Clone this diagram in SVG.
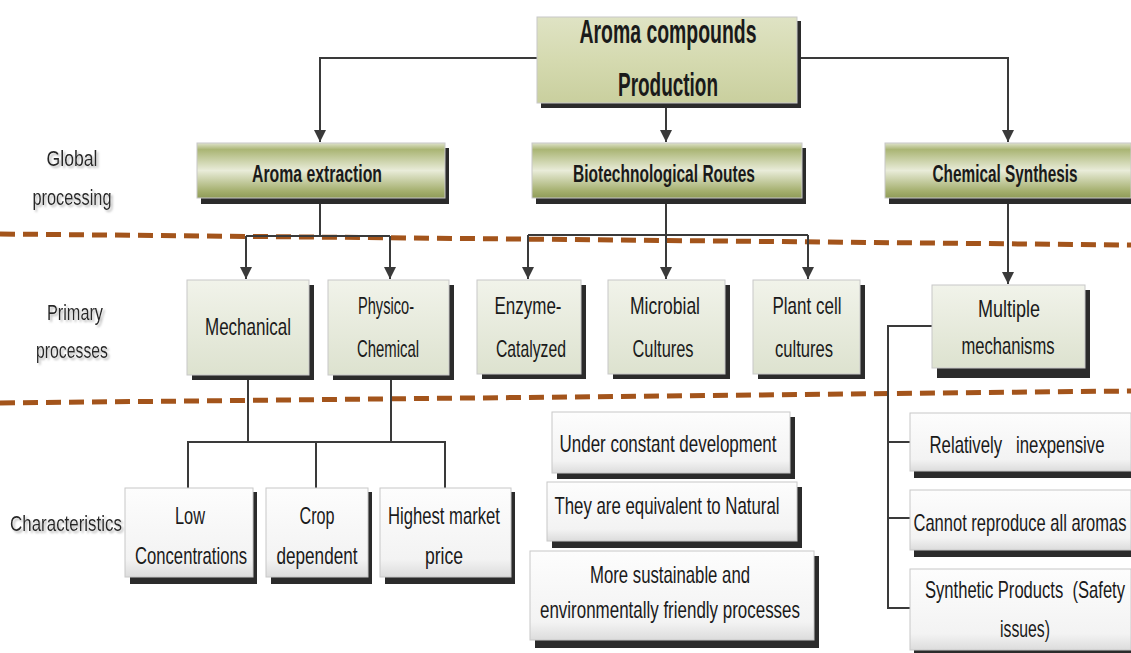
<svg xmlns="http://www.w3.org/2000/svg" width="1131" height="653" viewBox="0 0 1131 653">
<defs>
<linearGradient id="gTop" x1="0" y1="0" x2="0" y2="1">
<stop offset="0" stop-color="#dfe3c4"/><stop offset="0.5" stop-color="#d5dab0"/><stop offset="1" stop-color="#c9cf9e"/>
</linearGradient>
<linearGradient id="gL2" x1="0" y1="0" x2="0" y2="1">
<stop offset="0" stop-color="#dfe3cc"/><stop offset="0.12" stop-color="#aab574"/><stop offset="0.5" stop-color="#e9ecd9"/><stop offset="0.88" stop-color="#a3ae6c"/><stop offset="1" stop-color="#8f9b58"/>
</linearGradient>
<linearGradient id="gL3" x1="0" y1="0" x2="0" y2="1">
<stop offset="0" stop-color="#f1f3ea"/><stop offset="1" stop-color="#dde2cf"/>
</linearGradient>
<linearGradient id="gW" x1="0" y1="0" x2="0" y2="1">
<stop offset="0" stop-color="#fdfdfd"/><stop offset="0.8" stop-color="#f3f3f3"/><stop offset="1" stop-color="#dcdcdc"/>
</linearGradient>
<marker id="arr" markerUnits="userSpaceOnUse" markerWidth="12" markerHeight="14" refX="12" refY="6" orient="auto">
<path d="M0,0 L12,6 L0,12 z" fill="#3a3a3a"/>
</marker>
<filter id="ts" x="-10%" y="-10%" width="130%" height="140%">
<feDropShadow dx="2" dy="2" stdDeviation="0.8" flood-color="#b8b8b8" flood-opacity="1"/>
</filter>
</defs>
<style>
text{font-family:"Liberation Sans",Arial,sans-serif;fill:#1a1a1a;text-anchor:middle}
.t1{font-size:34px;font-weight:bold}
.t2{font-size:24px;font-weight:bold}
.t3{font-size:24px}
.side{font-size:22px;fill:#262626;filter:url(#ts)}
.sh{fill:#2b2b2b}
.b1{fill:url(#gTop);stroke:#c8c8c8;stroke-width:1}
.b2{fill:url(#gL2);stroke:#c8c8c8;stroke-width:1}
.b3{fill:url(#gL3);stroke:#c8c8c8;stroke-width:1}
.bw{fill:url(#gW);stroke:#c8c8c8;stroke-width:1}
.c{fill:none;stroke:#3a3a3a;stroke-width:2}
.ca{fill:none;stroke:#3a3a3a;stroke-width:2;marker-end:url(#arr)}
.dash{fill:none;stroke:#a3541b;stroke-width:5;stroke-dasharray:15 8}
</style>
<rect width="1131" height="653" fill="#ffffff"/>

<g id="dividers">
<path class="dash" d="M0,234 L1131,245"/>
<path class="dash" d="M0,403 L1131,391"/>
</g>

<g id="labels">
<text class="side" x="72" y="166" textLength="51" lengthAdjust="spacingAndGlyphs">Global</text>
<text class="side" x="72" y="205" textLength="79" lengthAdjust="spacingAndGlyphs">processing</text>
<text class="side" x="75" y="320" textLength="56" lengthAdjust="spacingAndGlyphs">Primary</text>
<text class="side" x="72" y="358" textLength="72" lengthAdjust="spacingAndGlyphs">processes</text>
<text class="side" x="66" y="531" textLength="112" lengthAdjust="spacingAndGlyphs">Characteristics</text>
</g>

<g id="connectors">
<path class="ca" d="M537,58 H320 V142"/>
<path class="ca" d="M666,103 V142"/>
<path class="ca" d="M797,58 H1008 V142"/>
<path class="c" d="M320,198 V236 M246,236 H390"/>
<path class="ca" d="M246,236 V279"/>
<path class="ca" d="M390,236 V279"/>
<path class="c" d="M666,198 V235 M528,235 H808"/>
<path class="ca" d="M528,235 V279"/>
<path class="ca" d="M666,235 V279"/>
<path class="ca" d="M808,235 V279"/>
<path class="ca" d="M1008,198 V284"/>
<path class="c" d="M248,376 V442 M391,376 V442 M188,488 V442 H445 V488 M316,442 V488"/>
<path class="c" d="M932,326 H888 V608 H910 M888,442 H910 M888,518 H910"/>
</g>

<g id="n-top">
<rect class="sh" x="541" y="21" width="260" height="87"/>
<rect class="b1" x="537" y="17" width="260" height="86"/>
<text class="t1" x="668" y="43" textLength="177" lengthAdjust="spacingAndGlyphs">Aroma compounds</text>
<text class="t1" x="668" y="96" textLength="100" lengthAdjust="spacingAndGlyphs">Production</text>
</g>

<g id="n-extraction">
<rect class="sh" x="201" y="148" width="248" height="56"/>
<rect class="b2" x="197" y="143" width="248" height="55"/>
<text class="t2" x="317" y="182" textLength="130" lengthAdjust="spacingAndGlyphs">Aroma extraction</text>
</g>
<g id="n-biotech">
<rect class="sh" x="536" y="148" width="270" height="56"/>
<rect class="b2" x="532" y="143" width="270" height="55"/>
<text class="t2" x="664" y="182" textLength="182" lengthAdjust="spacingAndGlyphs">Biotechnological Routes</text>
</g>
<g id="n-chemical">
<rect class="sh" x="889" y="148" width="242" height="56"/>
<rect class="b2" x="885" y="143" width="246" height="55"/>
<text class="t2" x="1005" y="182" textLength="145" lengthAdjust="spacingAndGlyphs">Chemical Synthesis</text>
</g>

<g id="n-mechanical">
<rect class="sh" x="192" y="285" width="122" height="95"/>
<rect class="b3" x="187" y="280" width="122" height="95"/>
<text class="t3" x="248" y="335" textLength="86" lengthAdjust="spacingAndGlyphs">Mechanical</text>
</g>
<g id="n-physico">
<rect class="sh" x="333" y="285" width="121" height="95"/>
<rect class="b3" x="328" y="280" width="121" height="95"/>
<text class="t3" x="386" y="314" textLength="56" lengthAdjust="spacingAndGlyphs">Physico-</text>
<text class="t3" x="388" y="357" textLength="62" lengthAdjust="spacingAndGlyphs">Chemical</text>
</g>
<g id="n-enzyme">
<rect class="sh" x="482" y="285" width="104" height="94"/>
<rect class="b3" x="477" y="280" width="104" height="94"/>
<text class="t3" x="528" y="314" textLength="67" lengthAdjust="spacingAndGlyphs">Enzyme-</text>
<text class="t3" x="531" y="357" textLength="70" lengthAdjust="spacingAndGlyphs">Catalyzed</text>
</g>
<g id="n-microbial">
<rect class="sh" x="613" y="285" width="117" height="94"/>
<rect class="b3" x="608" y="280" width="117" height="94"/>
<text class="t3" x="665" y="314" textLength="70" lengthAdjust="spacingAndGlyphs">Microbial</text>
<text class="t3" x="663" y="357" textLength="61" lengthAdjust="spacingAndGlyphs">Cultures</text>
</g>
<g id="n-plant">
<rect class="sh" x="758" y="285" width="107" height="94"/>
<rect class="b3" x="753" y="280" width="107" height="94"/>
<text class="t3" x="807" y="314" textLength="69" lengthAdjust="spacingAndGlyphs">Plant cell</text>
<text class="t3" x="804" y="357" textLength="58" lengthAdjust="spacingAndGlyphs">cultures</text>
</g>
<g id="n-multiple">
<rect class="sh" x="937" y="290" width="153" height="88"/>
<rect class="b3" x="932" y="285" width="153" height="83"/>
<text class="t3" x="1009" y="317" textLength="62" lengthAdjust="spacingAndGlyphs">Multiple</text>
<text class="t3" x="1008" y="354" textLength="93" lengthAdjust="spacingAndGlyphs">mechanisms</text>
</g>

<g id="n-low">
<rect class="sh" x="130" y="492" width="127" height="92"/>
<rect class="bw" x="125" y="488" width="128" height="89"/>
<text class="t3" x="190" y="524" textLength="30" lengthAdjust="spacingAndGlyphs">Low</text>
<text class="t3" x="191" y="564" textLength="112" lengthAdjust="spacingAndGlyphs">Concentrations</text>
</g>
<g id="n-crop">
<rect class="sh" x="271" y="492" width="101" height="92"/>
<rect class="bw" x="266" y="488" width="102" height="89"/>
<text class="t3" x="317" y="524" textLength="35" lengthAdjust="spacingAndGlyphs">Crop</text>
<text class="t3" x="317" y="564" textLength="81" lengthAdjust="spacingAndGlyphs">dependent</text>
</g>
<g id="n-highest">
<rect class="sh" x="385" y="492" width="130" height="92"/>
<rect class="bw" x="380" y="488" width="131" height="89"/>
<text class="t3" x="444" y="524" textLength="112" lengthAdjust="spacingAndGlyphs">Highest market</text>
<text class="t3" x="444" y="564" textLength="38" lengthAdjust="spacingAndGlyphs">price</text>
</g>

<g id="n-under">
<rect class="sh" x="557" y="417" width="238" height="62"/>
<rect class="bw" x="552" y="412" width="238" height="61"/>
<text class="t3" x="668" y="452" textLength="217" lengthAdjust="spacingAndGlyphs">Under constant development</text>
</g>
<g id="n-equivalent">
<rect class="sh" x="552" y="487" width="250" height="61"/>
<rect class="bw" x="547" y="482" width="250" height="59"/>
<text class="t3" x="667" y="514" textLength="225" lengthAdjust="spacingAndGlyphs">They are equivalent to Natural</text>
</g>
<g id="n-sustainable">
<rect class="sh" x="535" y="556" width="284" height="92"/>
<rect class="bw" x="530" y="551" width="284" height="89"/>
<text class="t3" x="670" y="583" textLength="160" lengthAdjust="spacingAndGlyphs">More sustainable and</text>
<text class="t3" x="670" y="618" textLength="260" lengthAdjust="spacingAndGlyphs">environmentally friendly processes</text>
</g>

<g id="n-inexpensive">
<rect class="sh" x="914" y="418" width="217" height="60"/>
<rect class="bw" x="910" y="413" width="221" height="58"/>
<text class="t3" x="1017" y="453" textLength="175" lengthAdjust="spacingAndGlyphs" xml:space="preserve">Relatively   inexpensive</text>
</g>
<g id="n-cannot">
<rect class="sh" x="914" y="495" width="217" height="62"/>
<rect class="bw" x="910" y="490" width="221" height="60"/>
<text class="t3" x="1020" y="531" textLength="213" lengthAdjust="spacingAndGlyphs">Cannot reproduce all aromas</text>
</g>
<g id="n-synthetic">
<rect class="sh" x="914" y="574" width="217" height="85"/>
<rect class="bw" x="910" y="569" width="221" height="81"/>
<text class="t3" x="1025" y="598" textLength="200" lengthAdjust="spacingAndGlyphs" xml:space="preserve">Synthetic Products  (Safety</text>
<text class="t3" x="1025" y="637" textLength="50" lengthAdjust="spacingAndGlyphs">issues)</text>
</g>
</svg>
